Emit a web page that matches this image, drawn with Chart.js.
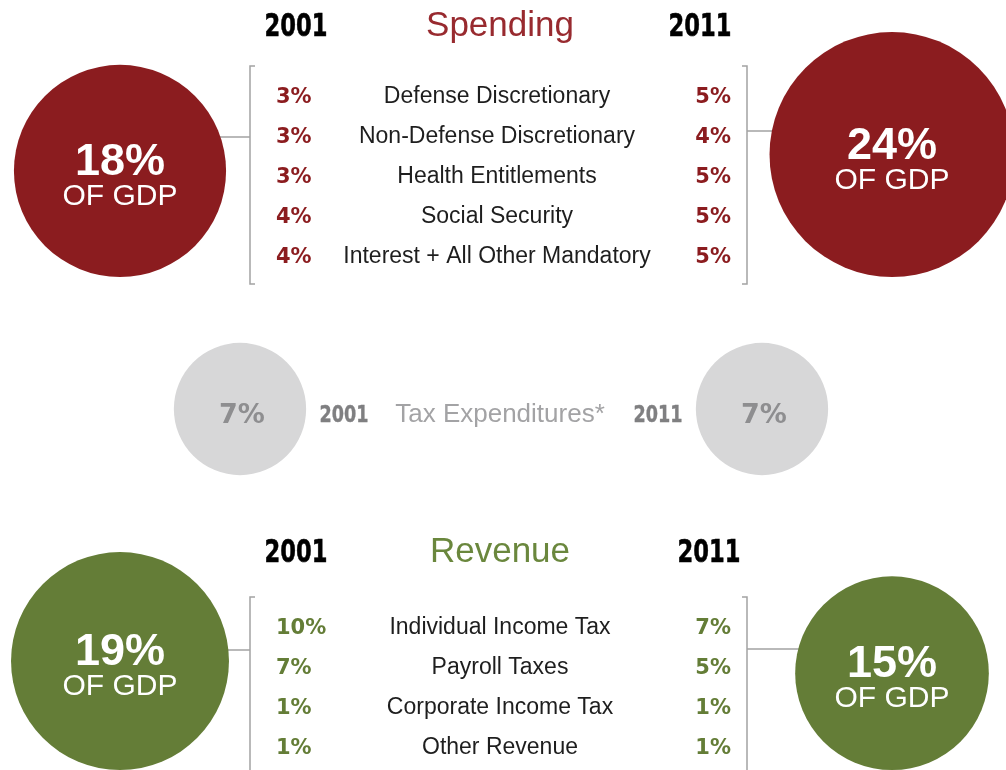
<!DOCTYPE html>
<html>
<head>
<meta charset="utf-8">
<script src="https://cdn.jsdelivr.net/npm/chart.js@4.4.1/dist/chart.umd.min.js"></script>
<style>
  html, body { margin: 0; padding: 0; background: #fff; }
  #wrap { width: 1006px; height: 770px; position: relative; }
</style>
</head>
<body>
<div id="wrap"><canvas id="gdp"></canvas></div>
<script>
var years = ['2001', '2011'];

var spendingTotal = [18, 24];
var spendingItems = ['Defense Discretionary', 'Non-Defense Discretionary', 'Health Entitlements', 'Social Security', 'Interest + All Other Mandatory'];
var spending2001 = [3, 3, 3, 4, 4];
var spending2011 = [5, 4, 5, 5, 5];

var taxExpenditures = [7, 7];

var revenueTotal = [19, 15];
var revenueItems = ['Individual Income Tax', 'Payroll Taxes', 'Corporate Income Tax', 'Other Revenue'];
var revenue2001 = [10, 7, 1, 1];
var revenue2011 = [7, 5, 1, 1];

// layout, in page units (scales run 0..1006 across and 0..770 down)
var RED = '#8b1c1f', GREEN = '#647d37', GREY = '#d7d7d8', LINE = '#a3a3a3';
var bigCols = [120, 892];
var taxCols = [240, 762];
var taxMid = 409;
var rowStep = 40;
var SANS = '"Liberation Sans", Arial, sans-serif';
var BOLD = '"DejaVu Sans", sans-serif';

var sections = [
  { title: 'Spending', titleColor: '#982a2f', color: RED, floor: 277, head: 36, headX: [296, 700],
    firstRow: 103, items: spendingItems, left: spending2001, right: spending2011,
    bracket: [66, 284], link: [137, 131], labelX: 497 },
  { title: 'Revenue', titleColor: '#6a873d', color: GREEN, floor: 770, head: 562, headX: [296, 709],
    firstRow: 634, items: revenueItems, left: revenue2001, right: revenue2011,
    bracket: [597, 790], link: [650, 649], labelX: 500 }
];

// circle area follows the share of GDP
function radius(v) { return 25 * Math.sqrt(v); }

function onFloor(values, floor) {
  return values.map(function (v, i) { return { x: bigCols[i], y: floor - radius(v), v: v }; });
}

// condensed bold year labels: squeeze the glyphs to a given width
function narrowText(ctx, text, x, y, width, stroke) {
  var w = ctx.measureText(text).width;
  ctx.save();
  ctx.translate(x, y);
  ctx.scale(width / w, 1);
  ctx.textAlign = 'center';
  ctx.fillText(text, 0, 0);
  if (stroke) { ctx.lineWidth = stroke; ctx.strokeStyle = ctx.fillStyle; ctx.strokeText(text, 0, 0); }
  ctx.restore();
}

var infoPlugin = {
  id: 'info',
  beforeDatasetsDraw: function (chart) {
    var ctx = chart.ctx, sx = chart.scales.x, sy = chart.scales.y;
    ctx.save();
    ctx.strokeStyle = LINE;
    ctx.lineWidth = 1.5;
    sections.forEach(function (s, si) {
      var meta = chart.getDatasetMeta(si === 0 ? 0 : 2);
      var lx = sx.getPixelForValue(250), rx = sx.getPixelForValue(747);
      var top = sy.getPixelForValue(s.bracket[0]), bot = sy.getPixelForValue(s.bracket[1]);
      ctx.beginPath();
      ctx.moveTo(lx + 5, top); ctx.lineTo(lx, top); ctx.lineTo(lx, bot); ctx.lineTo(lx + 5, bot);
      ctx.moveTo(rx - 5, top); ctx.lineTo(rx, top); ctx.lineTo(rx, bot); ctx.lineTo(rx - 5, bot);
      ctx.moveTo(meta.data[0].x, sy.getPixelForValue(s.link[0])); ctx.lineTo(lx, sy.getPixelForValue(s.link[0]));
      ctx.moveTo(rx, sy.getPixelForValue(s.link[1])); ctx.lineTo(meta.data[1].x, sy.getPixelForValue(s.link[1]));
      ctx.stroke();
    });
    ctx.restore();
  },
  afterDatasetsDraw: function (chart) {
    var ctx = chart.ctx, sx = chart.scales.x, sy = chart.scales.y;
    ctx.save();
    ctx.textBaseline = 'alphabetic';

    sections.forEach(function (s, si) {
      var hy = sy.getPixelForValue(s.head);
      // year headers
      ctx.font = 'bold 32px ' + BOLD;
      ctx.fillStyle = '#000';
      years.forEach(function (y, i) {
        narrowText(ctx, y, sx.getPixelForValue(s.headX[i]), hy, 63, 0.6);
      });
      ctx.textAlign = 'center';
      ctx.font = '35px ' + SANS;
      ctx.fillStyle = s.titleColor;
      ctx.fillText(s.title, sx.getPixelForValue(500), hy);

      // rows
      s.items.forEach(function (name, i) {
        var y = sy.getPixelForValue(s.firstRow + i * rowStep);
        ctx.font = '23px ' + SANS;
        ctx.fillStyle = '#1e1e1e';
        ctx.textAlign = 'center';
        ctx.fillText(name, sx.getPixelForValue(s.labelX), y);
        ctx.font = 'bold 21px ' + BOLD;
        ctx.fillStyle = s.color;
        ctx.textAlign = 'left';
        ctx.fillText(s.left[i] + '%', sx.getPixelForValue(276), y);
        ctx.textAlign = 'right';
        ctx.fillText(s.right[i] + '%', sx.getPixelForValue(731), y);
      });

      // totals in the circles
      var meta = chart.getDatasetMeta(si === 0 ? 0 : 2);
      meta.data.forEach(function (el, i) {
        var v = chart.data.datasets[meta.index].data[i].v;
        ctx.fillStyle = '#fff';
        ctx.textAlign = 'center';
        ctx.font = 'bold 45px ' + SANS;
        ctx.fillText(v + '%', el.x, el.y + 4);
        ctx.font = '30px ' + SANS;
        ctx.fillText('OF GDP', el.x, el.y + 34);
      });
    });

    // tax expenditures row
    var tm = chart.getDatasetMeta(1);
    var ty = sy.getPixelForValue(422);
    ctx.textAlign = 'center';
    tm.data.forEach(function (el, i) {
      ctx.font = 'bold 27px ' + BOLD;
      ctx.fillStyle = '#8e8e90';
      ctx.fillText(taxExpenditures[i] + '%', el.x + 2, el.y + 14);
    });
    ctx.font = 'bold 23px ' + BOLD;
    ctx.fillStyle = '#7f7f81';
    narrowText(ctx, years[0], sx.getPixelForValue(344), ty, 49, 0.4);
    narrowText(ctx, years[1], sx.getPixelForValue(658), ty, 49, 0.4);
    ctx.textAlign = 'center';
    ctx.font = '26px ' + SANS;
    ctx.fillStyle = '#a3a3a5';
    ctx.fillText('Tax Expenditures*', sx.getPixelForValue(500), ty);

    ctx.restore();
  }
};

new Chart(document.getElementById('gdp'), {
  type: 'scatter',
  data: {
    datasets: [
      { label: 'Spending', data: onFloor(spendingTotal, sections[0].floor), backgroundColor: RED },
      { label: 'Tax Expenditures', data: taxExpenditures.map(function (v, i) { return { x: taxCols[i], y: taxMid, v: v }; }), backgroundColor: GREY },
      { label: 'Revenue', data: onFloor(revenueTotal, sections[1].floor), backgroundColor: GREEN }
    ]
  },
  options: {
    responsive: true,
    maintainAspectRatio: false,
    animation: false,
    events: [],
    layout: { padding: 0, autoPadding: false },
    elements: {
      point: {
        radius: function (c) { return radius(c.raw.v); },
        hoverRadius: function (c) { return radius(c.raw.v); },
        borderWidth: 0,
        hoverBorderWidth: 0
      }
    },
    plugins: { legend: { display: false }, tooltip: { enabled: false } },
    scales: {
      x: { type: 'linear', min: 0, max: 1006, display: false },
      y: { type: 'linear', min: 0, max: 770, reverse: true, display: false }
    }
  },
  plugins: [infoPlugin]
});
</script>
</body>
</html>
